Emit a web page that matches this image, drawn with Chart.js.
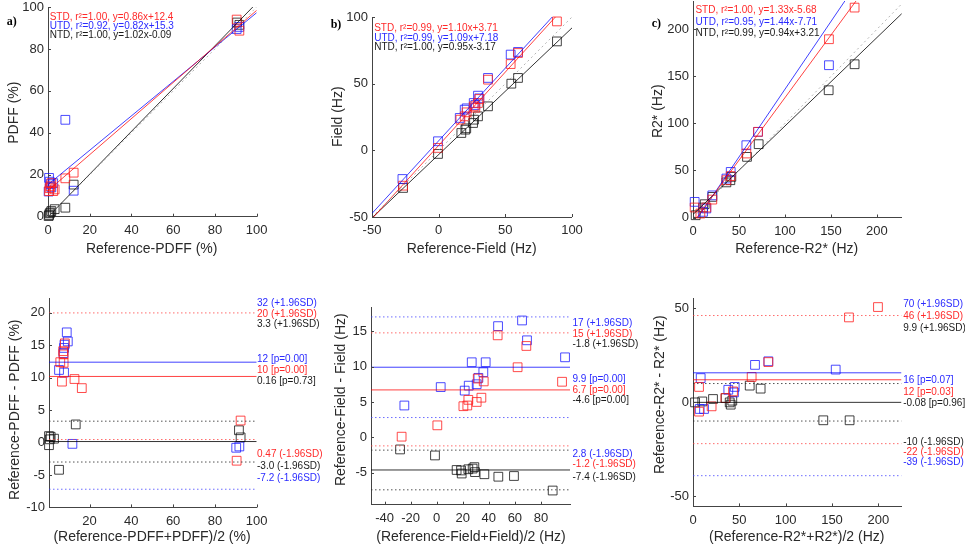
<!DOCTYPE html>
<html><head><meta charset="utf-8">
<script src="https://cdn.jsdelivr.net/npm/chart.js@4"></script>
<style>
html,body{margin:0;padding:0;background:#fff;width:965px;height:552px;overflow:hidden;position:relative}
canvas{position:absolute}
</style></head><body>
<script>
// ================= DATA =================
// a) PDFF scatter
const pdffRefSTD = [0.5, 0.8, 1.2, 1.6, 2.5, 3.2, 8.3, 12.3, 90.4, 91.7];
const pdffSTD    = [12.2, 13.6, 14.5, 16.0, 12.2, 13.0, 18.3, 21.0, 94.0, 88.7];
const pdffRefUTD = [0.3, 0.5, 0.8, 1.2, 1.6, 2.5, 8.3, 12.3, 90.4, 91.7];
const pdffUTD    = [12.0, 18.5, 16.7, 15.5, 14.0, 16.0, 46.2, 12.4, 89.5, 90.5];
const pdffRefNTD = [0.3, 0.5, 0.8, 1.2, 1.6, 3.2, 8.3, 12.3, 90.6, 91.7];
const pdffNTD    = [0.3, 0.8, 1.6, 2.0, 2.7, 3.6, 4.3, 15.3, 92.6, 91.5];
const pdffFitSlope = [0.86, 0.82, 1.02];      // STD, UTD, NTD
const pdffFitIntercept = [12.4, 15.3, -0.09];
const pdffLegend = ['STD, r²=1.00, y=0.86x+12.4', 'UTD, r²=0.92, y=0.82x+15.3', 'NTD, r²=1.00, y=1.02x-0.09'];

// b) Field scatter
const fieldRefSTD = [-26.7, -0.5, 16.3, 19.5, 21.0, 26.3, 27.5, 29.5, 30.5, 37.0, 54.0, 59.5, 88.7];
const fieldSTD    = [-26.5, 1.8, 23.0, 25.5, 28.5, 33.0, 32.0, 35.5, 38.5, 53.0, 64.7, 73.0, 96.7];
const fieldRefUTD = [-27.2, -0.5, 15.8, 19.5, 21.0, 26.3, 27.5, 29.5, 30.5, 37.0, 54.0, 59.5];
const fieldUTD    = [-21.5, 6.8, 24.3, 30.5, 31.5, 35.5, 34.0, 41.0, 39.0, 54.3, 71.8, 73.8];
const fieldRefNTD = [-26.7, -0.5, 17.0, 20.0, 20.7, 25.8, 26.5, 29.5, 37.0, 54.5, 59.5, 88.7];
const fieldNTD    = [-28.2, -2.7, 13.0, 15.5, 16.5, 20.5, 23.0, 25.5, 33.0, 50.0, 54.3, 81.7];
const fieldFitSlope = [1.10, 1.09, 0.95];
const fieldFitIntercept = [3.71, 7.18, -3.17];
const fieldLegend = ['STD, r²=0.99, y=1.10x+3.71', 'UTD, r²=0.99, y=1.09x+7.18', 'NTD, r²=1.00, y=0.95x-3.17'];

// c) R2* scatter
const r2RefSTD = [1.8, 8.0, 14.5, 21.0, 36.3, 41.0, 58.0, 70.7, 147.8, 175.7];
const r2STD    = [10.6, 4.2, 10.6, 19.0, 39.6, 44.0, 68.0, 91.0, 189.4, 223.0];
const r2RefUTD = [1.8, 10.9, 14.5, 21.0, 36.3, 41.0, 58.0, 70.7, 147.8];
const r2UTD    = [16.6, 6.0, 9.6, 23.5, 41.4, 48.4, 76.8, 91.0, 161.8];
const r2RefNTD = [2.9, 10.9, 12.7, 21.0, 36.3, 40.6, 41.7, 58.7, 71.4, 147.5, 175.7];
const r2NTD    = [2.4, 10.6, 14.1, 21.9, 37.3, 39.6, 43.2, 64.4, 77.9, 135.2, 162.8];
const r2FitSlope = [1.33, 1.44, 0.94];
const r2FitIntercept = [-5.68, -7.71, 3.21];
const r2Legend = ['STD, r²=1.00, y=1.33x-5.68', 'UTD, r²=0.95, y=1.44x-7.71', 'NTD, r²=0.99, y=0.94x+3.21'];

// d) PDFF Bland-Altman
const baPdffMeanSTD = [8.2, 7.4, 7.6, 6.0, 7.6, 6.8, 12.8, 16.3, 92.3, 90.4];
const baPdffDiffSTD = [15.3, 14.1, 13.6, 12.4, 12.3, 9.4, 9.8, 8.4, 3.4, -2.8];
const baPdffMeanUTD = [9.1, 9.6, 8.0, 7.8, 7.5, 5.4, 7.8, 11.8, 90.2, 91.7];
const baPdffDiffUTD = [17.0, 15.6, 15.1, 14.6, 13.8, 11.2, 10.8, -0.2, -0.8, -0.6];
const baPdffMeanNTD = [0.6, 1.0, 1.4, 3.0, 0.6, 5.4, 13.4, 91.5, 92.3];
const baPdffDiffNTD = [1.0, 0.5, 0.9, 0.6, -0.4, -4.2, 2.8, 1.9, 0.8];
const baPdffBias  = [10.2, 12.4, 0.16];   // STD, UTD, NTD
const baPdffUpper = [20, 32, 3.3];
const baPdffLower = [0.47, -7.2, -3.0];
const baPdffLabels = ['32 (+1.96SD)', '20 (+1.96SD)', '3.3 (+1.96SD)', '12 [p=0.00]', '10 [p=0.00]', '0.16 [p=0.73]', '0.47 (-1.96SD)', '-3.0 (-1.96SD)', '-7.2 (-1.96SD)'];

// e) Field Bland-Altman
const baFieldMeanSTD = [-26.9, 0.5, 20.5, 23.5, 24.3, 30.7, 34.3, 31.5, 36.1, 46.8, 62.1, 68.8, 96.2];
const baFieldDiffSTD = [0.1, 1.7, 4.4, 4.5, 5.3, 5.0, 5.6, 8.3, 7.9, 14.4, 9.9, 12.9, 7.85];
const baFieldMeanUTD = [-24.8, 3.1, 21.5, 24.6, 26.9, 30.7, 32.0, 35.8, 37.6, 47.1, 65.5, 69.3, 98.5];
const baFieldDiffUTD = [4.5, 7.1, 6.6, 7.3, 10.6, 7.5, 8.4, 9.2, 10.6, 15.7, 16.5, 13.7, 11.3];
const baFieldMeanNTD = [-28.1, -1.3, 15.3, 18.7, 19.2, 24.3, 27.6, 28.9, 29.4, 36.6, 47.3, 59.3, 89.0];
const baFieldDiffNTD = [-1.7, -2.55, -4.6, -4.67, -5.1, -4.5, -4.4, -4.2, -4.9, -5.2, -5.55, -5.45, -7.5];
const baFieldBias  = [6.7, 9.9, -4.6];
const baFieldUpper = [14.75, 17.0, -1.8];
const baFieldLower = [-1.2, 2.8, -7.4];
const baFieldLabels = ['17 (+1.96SD)', '15 (+1.96SD)', '-1.8 (+1.96SD)', '9.9 [p=0.00]', '6.7 [p=0.00]', '-4.6 [p=0.00]', '2.8 (-1.96SD)', '-1.2 (-1.96SD)', '-7.4 (-1.96SD)'];

// f) R2* Bland-Altman
const baR2MeanSTD = [6.5, 6.5, 20.1, 34.9, 43.2, 63.3, 81.3, 168.3, 199.6];
const baR2DiffSTD = [8.1, -5.0, -2.2, 2.2, 5.7, 13.4, 21.3, 45.0, 50.5];
const baR2MeanUTD = [8.3, 7.2, 11.9, 38.1, 45.0, 44.2, 66.9, 81.3, 154.0];
const baR2DiffUTD = [12.8, -3.6, -3.6, 6.6, 8.1, 5.2, 19.8, 21.7, 17.3];
const baR2MeanNTD = [2.2, 10.0, 21.6, 35.3, 39.6, 40.7, 42.4, 61.2, 73.0, 140.6, 169.0];
const baR2DiffNTD = [-0.1, 0.4, 1.7, 2.2, -0.1, -1.3, 0.8, 8.8, 7.2, -9.6, -9.6];
const baR2Bias  = [11.9, 15.6, -0.08];
const baR2Upper = [46, 70, 9.9];
const baR2Lower = [-22, -39, -10];
const baR2Labels = ['70 (+1.96SD)', '46 (+1.96SD)', '9.9 (+1.96SD)', '16 [p=0.07]', '12 [p=0.03]', '-0.08 [p=0.96]', '-10 (-1.96SD)', '-22 (-1.96SD)', '-39 (-1.96SD)'];

// tick values
const ticksPdffX = [0, 20, 40, 60, 80, 100];
const ticksPdffY = [0, 20, 40, 60, 80, 100];
const ticksFieldX = [-50, 0, 50, 100];
const ticksFieldY = [-50, 0, 50, 100];
const ticksR2X = [0, 50, 100, 150, 200];
const ticksR2Y = [0, 50, 100, 150, 200];
const ticksBaPdffX = [20, 40, 60, 80, 100];
const ticksBaPdffY = [-10, -5, 0, 5, 10, 15, 20];
const ticksBaFieldX = [-40, -20, 0, 20, 40, 60, 80];
const ticksBaFieldY = [-5, 0, 5, 10, 15];
const ticksBaR2X = [0, 50, 100, 150, 200];
const ticksBaR2Y = [-50, 0, 50];

// ================= STYLE =================
const FONT = '"Liberation Sans", Arial, sans-serif';
const markerCol = ['rgba(255,30,30,0.8)', 'rgba(30,30,255,0.8)', 'rgba(20,20,20,0.8)'];
const lineCol   = ['rgba(255,0,0,0.75)', 'rgba(0,0,255,0.75)', 'rgba(0,0,0,0.8)'];
const dotCol    = ['rgba(255,60,60,0.75)', 'rgba(60,60,255,0.75)', 'rgba(40,40,40,0.8)'];
const textCol   = ['#ff2a2a', '#2a2aff', '#1a1a1a'];

const zip = (xs, ys) => xs.map((x, i) => ({x, y: ys[i]}));

const panelPlugin = {
  id: 'panelText',
  afterDraw(chart, args, opts) {
    const ctx = chart.ctx, ca = chart.chartArea;
    const xs = chart.scales.x, ys = chart.scales.y;
    ctx.save();
    ctx.strokeStyle = '#444'; ctx.lineWidth = 1;
    ctx.beginPath();
    xs.ticks.forEach(t => { const p = Math.round(xs.getPixelForValue(t.value)) + 0.5; ctx.moveTo(p, ca.bottom); ctx.lineTo(p, ca.bottom - 3); });
    ys.ticks.forEach(t => { const p = Math.round(ys.getPixelForValue(t.value)) + 0.5; ctx.moveTo(ca.left, p); ctx.lineTo(ca.left + 3, p); });
    ctx.stroke();
    (opts.items || []).forEach(it => {
      ctx.save();
      ctx.font = it.font; ctx.fillStyle = it.color; ctx.textAlign = it.align || 'left'; ctx.textBaseline = 'middle';
      const x = it.x - opts.ox, y = it.y - opts.oy;
      if (it.rot) { ctx.translate(x, y); ctx.rotate(-Math.PI / 2); ctx.fillText(it.text, 0, 0); }
      else ctx.fillText(it.text, x, y);
      ctx.restore();
    });
    ctx.restore();
  }
};

function axis(min, max, ticks, isX) {
  return {
    type: 'linear', min, max,
    afterBuildTicks: s => { s.ticks = ticks.map(v => ({value: v})); },
    afterFit: s => { if (isX) s.height = 50; else s.width = 60; },
    grid: {display: true, drawOnChartArea: false, drawTicks: false},
    border: {display: true, color: '#444', width: 1},
    ticks: {font: {family: FONT, size: 13}, color: '#2a2a2a', padding: isX ? 6 : 4, callback: v => String(v)}
  };
}

function pointsDs(xs, ys, k) {
  return {type: 'scatter', data: zip(xs, ys), pointStyle: 'rect', pointRadius: 6.2, pointHoverRadius: 6.2,
    borderColor: markerCol[k], backgroundColor: 'rgba(0,0,0,0)', borderWidth: 1, showLine: false, clip: false};
}
function lineDs(pts, color, dash, width) {
  return {type: 'scatter', data: pts, showLine: true, pointRadius: 0, borderColor: color, borderWidth: width || 1,
    borderDash: dash || [], backgroundColor: 'rgba(0,0,0,0)', fill: false, clip: 0};
}

function makePanel(area, xr, yr, xt, yt, datasets, items) {
  const cv = document.createElement('canvas');
  const ox = area.l - 60, oy = area.t - 30;
  const w = Math.round(area.r - area.l + 140), h = Math.round(area.b - area.t + 80);
  cv.width = w; cv.height = h;
  cv.style.left = ox + 'px'; cv.style.top = oy + 'px';
  cv.style.width = w + 'px'; cv.style.height = h + 'px';
  document.body.appendChild(cv);
  new Chart(cv, {
    type: 'scatter',
    data: {datasets},
    options: {
      responsive: false, animation: false, devicePixelRatio: 1,
      layout: {padding: {left: 0, top: 30, right: w - 60 - (area.r - area.l), bottom: h - 30 - (area.b - area.t) - 50}},
      scales: {x: axis(xr[0], xr[1], xt, true), y: axis(yr[0], yr[1], yt, false)},
      plugins: {legend: {display: false}, tooltip: {enabled: false}, panelText: {ox, oy, items}},
      events: []
    },
    plugins: [panelPlugin]
  });
}

function scatterPanel(area, xr, yr, xt, yt, sets, slopes, intercepts, legend, legendPos, letter, letterPos, xTitle, xTitlePos, yTitle, yTitlePos) {
  const ds = [];
  ds.push(lineDs([{x: xr[0], y: xr[0]}, {x: xr[1], y: xr[1]}], 'rgba(150,150,150,0.7)', [2, 3], 1));
  for (let k = 0; k < 3; k++) {
    ds.push(lineDs([{x: xr[0], y: slopes[k] * xr[0] + intercepts[k]}, {x: xr[1], y: slopes[k] * xr[1] + intercepts[k]}], lineCol[k]));
  }
  for (let k = 0; k < 3; k++) ds.push(pointsDs(sets[k][0], sets[k][1], k));
  const items = [];
  legend.forEach((t, k) => items.push({text: t, x: legendPos.x, y: legendPos.y[k], color: textCol[k], font: '10px ' + FONT}));
  items.push({text: letter, x: letterPos[0], y: letterPos[1], color: '#000', font: 'bold 12px "Liberation Serif", "Times New Roman", serif'});
  items.push({text: xTitle, x: xTitlePos[0], y: xTitlePos[1], color: '#2a2a2a', font: '14px ' + FONT, align: 'center'});
  items.push({text: yTitle, x: yTitlePos[0], y: yTitlePos[1], color: '#2a2a2a', font: '14px ' + FONT, align: 'center', rot: true});
  makePanel(area, xr, yr, xt, yt, ds, items);
}

function baPanel(area, xr, yr, xt, yt, sets, bias, upper, lower, labels, labelX, labelY, labelColors, xTitle, xTitlePos, yTitle, yTitlePos) {
  const ds = [];
  for (let k = 0; k < 3; k++) {
    ds.push(lineDs([{x: xr[0], y: upper[k]}, {x: xr[1], y: upper[k]}], dotCol[k], [1.5, 2.5]));
    ds.push(lineDs([{x: xr[0], y: lower[k]}, {x: xr[1], y: lower[k]}], dotCol[k], [1.5, 2.5]));
    ds.push(lineDs([{x: xr[0], y: bias[k]}, {x: xr[1], y: bias[k]}], lineCol[k]));
  }
  for (let k = 0; k < 3; k++) ds.push(pointsDs(sets[k][0], sets[k][1], k));
  const items = [];
  labels.forEach((t, i) => items.push({text: t, x: labelX, y: labelY[i], color: textCol[labelColors[i]], font: '10px ' + FONT}));
  items.push({text: xTitle, x: xTitlePos[0], y: xTitlePos[1], color: '#2a2a2a', font: '14px ' + FONT, align: 'center'});
  items.push({text: yTitle, x: yTitlePos[0], y: yTitlePos[1], color: '#2a2a2a', font: '14px ' + FONT, align: 'center', rot: true});
  makePanel(area, xr, yr, xt, yt, ds, items);
}

// ================= PANELS =================
scatterPanel({l: 48.3, t: 7.3, r: 257, b: 217}, [0, 100], [0, 100], ticksPdffX, ticksPdffY,
  [[pdffRefSTD, pdffSTD], [pdffRefUTD, pdffUTD], [pdffRefNTD, pdffNTD]], pdffFitSlope, pdffFitIntercept,
  pdffLegend, {x: 50, y: [17.5, 26.5, 35.5]}, 'a)', [7, 22], 'Reference-PDFF (%)', [152, 249], 'PDFF (%)', [14, 113]);

scatterPanel({l: 372.3, t: 17.3, r: 572.3, b: 217.3}, [-50, 100], [-50, 100], ticksFieldX, ticksFieldY,
  [[fieldRefSTD, fieldSTD], [fieldRefUTD, fieldUTD], [fieldRefNTD, fieldNTD]], fieldFitSlope, fieldFitIntercept,
  fieldLegend, {x: 374.5, y: [28.3, 38.3, 47.7]}, 'b)', [331, 25], 'Reference-Field (Hz)', [472, 249], 'Field (Hz)', [338, 117]);

scatterPanel({l: 693.3, t: 0.8, r: 902.1, b: 217.3}, [0, 227], [0, 230], ticksR2X, ticksR2Y,
  [[r2RefSTD, r2STD], [r2RefUTD, r2UTD], [r2RefNTD, r2NTD]], r2FitSlope, r2FitIntercept,
  r2Legend, {x: 695.7, y: [10, 21.7, 33.3]}, 'c)', [652, 24], 'Reference-R2* (Hz)', [797, 249], 'R2* (Hz)', [658, 111]);

baPanel({l: 49, t: 298.3, r: 256.7, b: 507.7}, [0.6, 100], [-10, 22.3], ticksBaPdffX, ticksBaPdffY,
  [[baPdffMeanSTD, baPdffDiffSTD], [baPdffMeanUTD, baPdffDiffUTD], [baPdffMeanNTD, baPdffDiffNTD]],
  baPdffBias, baPdffUpper, baPdffLower, baPdffLabels, 257,
  [303.3, 314.3, 325, 360, 370.7, 381.7, 455, 466.7, 479], [1, 0, 2, 1, 0, 2, 0, 2, 1],
  '(Reference-PDFF+PDFF)/2 (%)', [152, 537], 'Reference-PDFF - PDFF (%)', [15, 410]);

baPanel({l: 371, t: 307.3, r: 570, b: 505}, [-50.4, 102.3], [-9.5, 18.4], ticksBaFieldX, ticksBaFieldY,
  [[baFieldMeanSTD, baFieldDiffSTD], [baFieldMeanUTD, baFieldDiffUTD], [baFieldMeanNTD, baFieldDiffNTD]],
  baFieldBias, baFieldUpper, baFieldLower, baFieldLabels, 572.5,
  [323.3, 334.3, 345, 380, 390.7, 401, 454.3, 465, 477.3], [1, 0, 2, 1, 0, 2, 1, 0, 2],
  '(Reference-Field+Field)/2 (Hz)', [471, 537], 'Reference-Field - Field (Hz)', [341, 400]);

baPanel({l: 693.3, t: 298.3, r: 901.8, b: 506.7}, [0, 225], [-55.3, 55.3], ticksBaR2X, ticksBaR2Y,
  [[baR2MeanSTD, baR2DiffSTD], [baR2MeanUTD, baR2DiffUTD], [baR2MeanNTD, baR2DiffNTD]],
  baR2Bias, baR2Upper, baR2Lower, baR2Labels, 903.5,
  [305, 316.5, 329, 380.5, 392.7, 404, 442.5, 452.5, 462.7], [1, 0, 2, 1, 0, 2, 2, 0, 1],
  '(Reference-R2*+R2*)/2 (Hz)', [797, 537], 'Reference-R2* - R2* (Hz)', [660, 395]);
</script>
</body></html>
